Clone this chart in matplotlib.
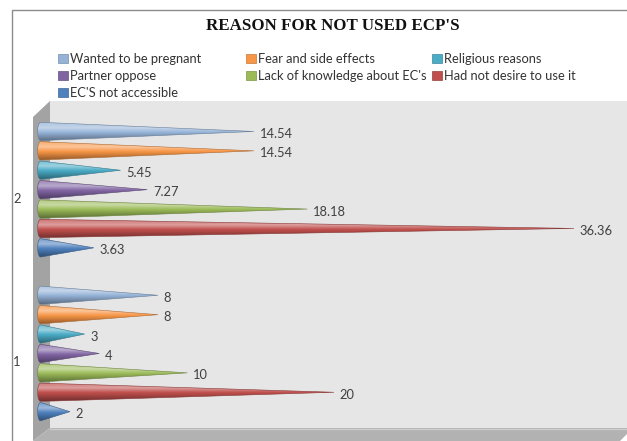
import numpy as np
import matplotlib
matplotlib.use("Agg")
import matplotlib.pyplot as plt
from matplotlib.patches import Polygon, Patch, Rectangle
from matplotlib.legend import Legend
from matplotlib.colors import to_rgb
from matplotlib.transforms import ScaledTranslation

groups = [1, 2]
group_labels = ["1", "2"]
reasons = ["Wanted to be pregnant", "Fear and side effects", "Religious reasons",
           "Partner oppose", "Lack of knowledge about EC's", "Had not desire to use it",
           "EC'S not accessible"]
colors = ["#95B3D7", "#F79646", "#4BACC6", "#8064A2", "#9BBB59", "#C0504D", "#4F81BD"]
values_1 = [8, 8, 3, 4, 10, 20, 2]
values_2 = [14.54, 14.54, 5.45, 7.27, 18.18, 36.36, 3.63]
values = [values_1, values_2]
legend_cols = [[0, 3, 6], [1, 4], [2, 5]]

FONT = "Lato"
FS = 9.3
W, H = 627, 441


def mix(c, other, t):
    c = np.array(to_rgb(c))
    return tuple(c * (1 - t) + np.array(other) * t)


def cone_gradient(color, n=64):
    base = np.array(to_rgb(color))
    stops = [(0.0, mix(color, (1, 1, 1), 0.2)),
             (0.3, mix(color, (1, 1, 1), 0.45)),
             (0.55, tuple(base)),
             (1.0, tuple(base * 0.6))]
    t = np.linspace(0, 1, n)
    pos = [s[0] for s in stops]
    rows = np.zeros((n, 1, 3))
    for k in range(3):
        rows[:, 0, k] = np.interp(t, pos, [s[1][k] for s in stops])
    return rows


def draw_cone(ax, y, v, color, h, r):
    theta = np.linspace(np.pi * 1.5, np.pi * 0.5, 24)
    cap = np.column_stack([r * np.cos(theta), y + h / 2 * np.sin(theta)])
    verts = np.vstack([[[0, y + h / 2], [v, y], [0, y - h / 2]], cap])
    edge = tuple(np.array(to_rgb(color)) * 0.7)
    poly = Polygon(verts, closed=True, facecolor="none", edgecolor=edge,
                   lw=0.4, transform=ax.transData, zorder=3)
    ax.add_patch(poly)
    ax.imshow(cone_gradient(color), extent=[-r, v, y - h / 2, y + h / 2],
              aspect="auto", origin="upper", clip_path=poly, zorder=2,
              interpolation="bilinear")


fig = plt.figure(figsize=(W / 100, H / 100), dpi=100)

# chart frame and 3D walls, drawn in pixel space
bg = fig.add_axes([0, 0, 1, 1])
bg.set_xlim(0, W)
bg.set_ylim(H, 0)
bg.axis("off")
bg.add_patch(Rectangle((12, 10), 700, 500, fill=False, ec="#8c8c8c", lw=1))
bg.add_patch(Rectangle((50, 101), W - 50, 327, fc="#e6e6e6", ec="none"))
bg.add_patch(Polygon([(33, 117), (50, 101), (50, 428), (33, 441)], fc="#a3a3a3", ec="none"))
bg.add_patch(Polygon([(33, 441), (50, 428), (W, 428), (W, 434), (620, 441)],
                     fc="#b2b2b2", ec="none"))
bg.plot([50, W], [428.5, 428.5], color="#cdcdcd", lw=1)

bg.text(333, 26, "REASON FOR NOT USED ECP'S", ha="center", va="center",
        fontsize=12.2, fontweight="bold", family="Liberation Serif", color="#111111")

# legend, three columns like the original
col_x = [58, 246, 432]
for cx, idx in zip(col_x, legend_cols):
    handles = [Patch(facecolor=colors[i], edgecolor=tuple(np.array(to_rgb(colors[i])) * 0.8),
                     lw=0.5) for i in idx]
    leg = Legend(bg, handles, [reasons[i] for i in idx], loc="upper left",
                 bbox_to_anchor=(cx, 53), bbox_transform=bg.transData,
                 frameon=False, borderpad=0, borderaxespad=0,
                 handlelength=0.75, handleheight=0.75, handletextpad=0.2,
                 labelspacing=0.38, prop={"family": FONT, "size": FS})
    for t in leg.get_texts():
        t.set_color("#333333")
    bg.add_artist(leg)

# data axes
px_per_unit = 14.67
x0 = 40.6
ax = fig.add_axes([33 / W, (H - 428) / H, (W - 33) / W, (428 - 102) / H])
ax.patch.set_alpha(0)
ax.set_xlim(-(x0 - 33) / px_per_unit, (W - x0) / px_per_unit)

spacing = 0.1184
h = 0.112
r = 3 / px_per_unit
for g, vals in zip(groups, values):
    for i, v in enumerate(vals):
        y = g + (3 - i) * spacing
        draw_cone(ax, y, v, colors[i], h, r)
        ax.annotate(f"{v:g}", (v, y), xytext=(4.0, -1.9), textcoords="offset points",
                    ha="left", va="center", fontsize=FS, family=FONT, color="#404040")

ax.set_ylim(0.545, 2.535)
ax.set_xticks([])
ax.set_yticks(groups)
ax.set_yticklabels(group_labels, family=FONT, fontsize=FS, color="#404040")
ax.tick_params(axis="y", length=0, pad=9)
for lbl in ax.get_yticklabels():
    lbl.set_transform(lbl.get_transform() + ScaledTranslation(0, -0.08, fig.dpi_scale_trans))
for s in ax.spines.values():
    s.set_visible(False)

fig.savefig("out.png", dpi=100)
